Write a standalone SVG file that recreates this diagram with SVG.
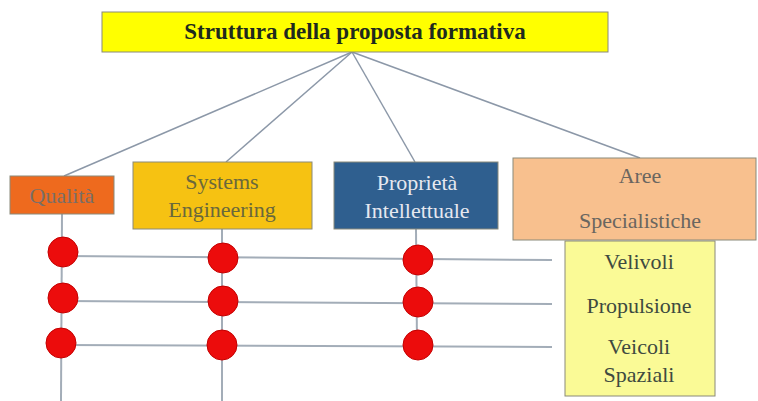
<svg xmlns="http://www.w3.org/2000/svg" width="758" height="401" viewBox="0 0 758 401">
<style>
.t{font-family:"Liberation Serif","Times New Roman",serif;font-size:22px;text-anchor:middle}
.ln{stroke:#8c98a8;stroke-width:1.5;fill:none}
.hl{stroke:#a3adb8;stroke-width:2;fill:none}
.dot{fill:#ec0c0c;stroke:#c40000;stroke-width:1}
.bx{stroke:#8a8a7a;stroke-width:1}
</style>
<rect width="758" height="401" fill="#ffffff"/>
<g id="connectors">
<line class="ln" x1="352" y1="52" x2="64" y2="176"/>
<line class="ln" x1="352" y1="52" x2="226" y2="162"/>
<line class="ln" x1="352" y1="52" x2="415" y2="162"/>
<line class="ln" x1="352" y1="52" x2="640" y2="158"/>
<line class="hl" x1="62" y1="214" x2="61" y2="401"/>
<line class="hl" x1="222" y1="229" x2="222" y2="401"/>
<line class="hl" x1="416" y1="229" x2="417" y2="345"/>
<line class="hl" x1="63" y1="256" x2="552" y2="260"/>
<line class="hl" x1="63" y1="301" x2="552" y2="304"/>
<line class="hl" x1="61" y1="345" x2="552" y2="347"/>
</g>
<g id="title">
<rect class="bx" x="102" y="12" width="506" height="40" fill="#ffff00"/>
<text class="t" x="355" y="39" font-weight="bold" font-size="23" fill="#1e2a1e" style="font-size:23px">Struttura della proposta formativa</text>
</g>
<g id="qualita">
<rect class="bx" x="10" y="176" width="104" height="38" fill="#ee6a1e"/>
<text class="t" x="62" y="203" fill="#7a6e66">Qualità</text>
</g>
<g id="systems">
<rect class="bx" x="133" y="162" width="179" height="67" fill="#f6c212"/>
<text class="t" x="222" y="189" fill="#6a683c">Systems</text>
<text class="t" x="222" y="217" fill="#6a683c">Engineering</text>
</g>
<g id="proprieta">
<rect class="bx" x="334" y="162" width="164" height="67" fill="#2f5f8f"/>
<text class="t" x="417" y="190" fill="#e6e8f0">Proprietà</text>
<text class="t" x="417" y="218" fill="#e6e8f0">Intellettuale</text>
</g>
<g id="aree">
<rect class="bx" x="513" y="158" width="243" height="82" fill="#f8c08e"/>
<text class="t" x="640" y="183" fill="#6a6660">Aree</text>
<text class="t" x="640" y="228" fill="#6a6660">Specialistiche</text>
</g>
<g id="settori">
<rect class="bx" x="565" y="241" width="150" height="155" fill="#fafa96"/>
<text class="t" x="639" y="269" fill="#3e4a40">Velivoli</text>
<text class="t" x="639" y="313" fill="#3e4a40">Propulsione</text>
<text class="t" x="639" y="354" fill="#3e4a40">Veicoli</text>
<text class="t" x="639" y="382" fill="#3e4a40">Spaziali</text>
</g>
<g id="dots">
<circle class="dot" cx="63" cy="252" r="15"/>
<circle class="dot" cx="63" cy="298" r="15"/>
<circle class="dot" cx="61" cy="343" r="15"/>
<circle class="dot" cx="223" cy="258" r="15"/>
<circle class="dot" cx="223" cy="301" r="15"/>
<circle class="dot" cx="222" cy="345" r="15"/>
<circle class="dot" cx="418" cy="260" r="15"/>
<circle class="dot" cx="418" cy="302" r="15"/>
<circle class="dot" cx="418" cy="345" r="15"/>
</g>
</svg>
